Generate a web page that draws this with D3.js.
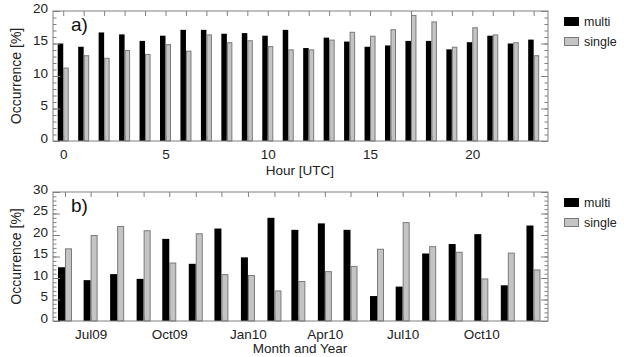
<!DOCTYPE html>
<html>
<head>
<meta charset="utf-8">
<script src="https://cdn.jsdelivr.net/npm/d3@7"></script>
<style>
    body { margin: 0; background: #fff; }
    svg { display: block; font-family: "Liberation Sans", Arial, sans-serif; }
</style>
</head>
<body>
<svg width="624" height="357"></svg>
<script>
// panel a: diurnal cycle
let hours = d3.range(0, 24);
let hourMulti = [15.0, 14.5, 16.7, 16.4, 15.4, 16.2, 17.1, 17.1, 16.5, 16.6, 16.2, 17.1,
    14.3, 15.9, 15.3, 14.5, 14.7, 15.4, 15.4, 14.1, 15.2, 16.2, 15.0, 15.6];
let hourSingle = [11.3, 13.2, 12.8, 14.0, 13.4, 14.9, 13.9, 16.4, 15.2, 15.5, 14.6, 14.1,
    14.1, 15.6, 16.8, 16.2, 17.2, 19.4, 18.4, 14.5, 17.5, 16.4, 15.2, 13.2];
let hourTicks = [0, 5, 10, 15, 20];

// panel b: monthly, Jun09 .. Dec10
let months = d3.range(0, 19).map(function (i) { return new Date(2009, 5 + i, 15); });
let monthMulti = [12.5, 9.5, 10.9, 9.8, 19.1, 13.3, 21.5, 14.8, 24.0, 21.2,
    22.7, 21.2, 5.8, 8.0, 15.7, 17.9, 20.2, 8.3, 22.2];
let monthSingle = [16.9, 20.0, 22.1, 21.1, 13.6, 20.4, 10.9, 10.7, 7.1, 9.3,
    11.6, 12.8, 16.8, 23.0, 17.4, 16.1, 9.9, 15.9, 12.0];
let monthTickLabels = ["Jul09", "Oct09", "Jan10", "Apr10", "Jul10", "Oct10"];
let monthTicks = [new Date(2009, 6, 15), new Date(2009, 9, 15), new Date(2010, 0, 15),
    new Date(2010, 3, 15), new Date(2010, 6, 15), new Date(2010, 9, 15)];

let seriesNames = ["multi", "single"];
let fills = ["#000000", "#c4c4c4"];
let lineGrey = "#808080";

let svg = d3.select("svg");
let left = 53, right = 548;

function panel(cfg) {
    let g = svg.append("g");
    let y = d3.scaleLinear().domain([0, cfg.ymax]).range([cfg.bottom, cfg.top]);
    let x = cfg.x;
    let bw = cfg.barWidth;

    // bars
    g.selectAll(".m").data(cfg.cats).enter().append("rect")
        .attr("x", function (d) { return x(d) - bw; })
        .attr("y", function (d, i) { return y(cfg.multi[i]); })
        .attr("width", bw)
        .attr("height", function (d, i) { return y(0) - y(cfg.multi[i]); })
        .attr("fill", fills[0]);
    g.selectAll(".s").data(cfg.cats).enter().append("rect")
        .attr("x", function (d) { return x(d) + 0.5; })
        .attr("y", function (d, i) { return y(cfg.single[i]) + 0.5; })
        .attr("width", bw - 1)
        .attr("height", function (d, i) { return y(0) - y(cfg.single[i]) - 0.5; })
        .attr("fill", fills[1])
        .attr("stroke", "#7a7a7a")
        .attr("stroke-width", 1);

    // box
    g.append("rect")
        .attr("x", left).attr("y", cfg.top)
        .attr("width", right - left).attr("height", cfg.bottom - cfg.top)
        .attr("fill", "none").attr("stroke", lineGrey).attr("stroke-width", 1);

    // y axis, left + right, major and minor
    let majors = d3.range(0, cfg.ymax + 1, 5);
    let minors = d3.range(0, cfg.ymax + 1, 1);
    let yl = g.append("g").attr("transform", "translate(" + left + ",0)")
        .call(d3.axisLeft(y).tickValues(majors).tickSizeInner(-7).tickSizeOuter(0).tickPadding(5));
    g.append("g").attr("transform", "translate(" + left + ",0)")
        .call(d3.axisLeft(y).tickValues(minors).tickSizeInner(-3.5).tickSizeOuter(0).tickFormat(""));
    g.append("g").attr("transform", "translate(" + right + ",0)")
        .call(d3.axisRight(y).tickValues(majors).tickSizeInner(-7).tickSizeOuter(0).tickFormat(""));
    g.append("g").attr("transform", "translate(" + right + ",0)")
        .call(d3.axisRight(y).tickValues(minors).tickSizeInner(-3.5).tickSizeOuter(0).tickFormat(""));
    yl.selectAll("text").attr("dy", "0.1em").style("font-size", "13.5px").attr("fill", "#222");

    // x axis, bottom + top
    let xb = g.append("g").attr("transform", "translate(0," + cfg.bottom + ")")
        .call(d3.axisBottom(x).tickValues(cfg.cats).tickSizeInner(-5).tickSizeOuter(0).tickFormat(""));
    g.append("g").attr("transform", "translate(0," + cfg.top + ")")
        .call(d3.axisTop(x).tickValues(cfg.cats).tickSizeInner(-5).tickSizeOuter(0).tickFormat(""));
    let xl = g.append("g").attr("transform", "translate(0," + cfg.bottom + ")")
        .call(d3.axisBottom(x).tickValues(cfg.labelTicks).tickSize(0).tickPadding(8)
            .tickFormat(function (d, i) { return cfg.labels[i]; }));
    xl.selectAll("text").style("font-size", "13.5px").attr("fill", "#222");

    g.selectAll(".domain").remove();
    g.selectAll(".tick line").attr("stroke", lineGrey);

    // titles
    g.append("text")
        .attr("transform", "translate(21," + ((cfg.top + cfg.bottom) / 2) + ") rotate(-90)")
        .attr("text-anchor", "middle")
        .style("font-size", "14px").attr("fill", "#222")
        .text("Occurrence [%]");
    g.append("text")
        .attr("x", 300).attr("y", cfg.titleY)
        .attr("text-anchor", "middle")
        .style("font-size", "13.5px").attr("fill", "#222")
        .text(cfg.xTitle);
    g.append("text")
        .attr("x", 71).attr("y", cfg.top + 20)
        .style("font-size", "19px").attr("fill", "#111")
        .text(cfg.tag);

    // legend
    seriesNames.forEach(function (n, i) {
        let ly = cfg.top + 11 + i * 20;
        g.append("rect")
            .attr("x", 564.5).attr("y", ly - 4.5).attr("width", 14).attr("height", 8)
            .attr("fill", fills[i]).attr("stroke", i ? "#7a7a7a" : "#000");
        g.append("text")
            .attr("x", 584).attr("y", ly)
            .attr("dy", "0.35em")
            .style("font-size", "12.5px").attr("fill", "#222")
            .text(n);
    });
}

panel({
    tag: "a)",
    top: 11, bottom: 141, ymax: 20,
    x: d3.scaleLinear().domain([-0.5, 23.7]).range([left, right]),
    cats: hours, multi: hourMulti, single: hourSingle,
    labelTicks: hourTicks, labels: hourTicks.map(String),
    barWidth: 5.5, xTitle: "Hour [UTC]", titleY: 175
});

panel({
    tag: "b)",
    top: 192, bottom: 321, ymax: 30,
    x: d3.scaleTime().domain([new Date(2009, 5, 1), new Date(2011, 0, 1)]).range([left, right]),
    cats: months, multi: monthMulti, single: monthSingle,
    labelTicks: monthTicks, labels: monthTickLabels,
    barWidth: 7, xTitle: "Month and Year", titleY: 353
});
</script>
</body>
</html>
